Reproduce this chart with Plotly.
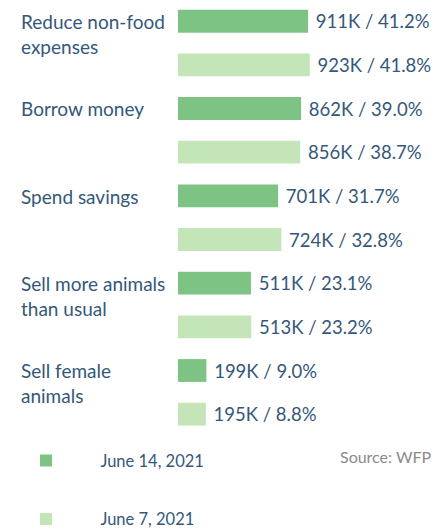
import plotly.graph_objects as go

categories = [
    "Reduce non-food<br>expenses",
    "Borrow money",
    "Spend savings",
    "Sell more animals<br>than usual",
    "Sell female<br>animals",
]
june14_k = [911, 862, 701, 511, 199]
june14_pct = [41.2, 39.0, 31.7, 23.1, 9.0]
june7_k = [923, 856, 724, 513, 195]
june7_pct = [41.8, 38.7, 32.8, 23.2, 8.8]

TEXT = "#34587a"
FONT = "Lato"
NBSP = "\u00a0"

W, H = 435, 530
L = 178
PLOT_W = W - L
Y_TOP, Y_BOTTOM = -0.493, 4.5
PLOT_H = (Y_BOTTOM - Y_TOP) * 87.25


def _labels(values, pcts):
    return [f" {v}K / {p:.1f}%" for v, p in zip(values, pcts)]


def _px_x(px):
    return (px - L) / PLOT_W


def _px_y(px):
    return 1 - px / PLOT_H


fig = go.Figure()
for name, vals, pcts, color, group in (
    ("June 14, 2021", june14_k, june14_pct, "#7dc383", "a"),
    ("June 7, 2021", june7_k, june7_pct, "#c4e5b7", "b"),
):
    fig.add_trace(
        go.Bar(
            y=categories,
            x=vals,
            orientation="h",
            name=NBSP * 4 + name,
            marker=dict(color=color, line=dict(width=0)),
            text=_labels(vals, pcts),
            textposition="outside",
            constraintext="none",
            cliponaxis=False,
            textfont=dict(family=FONT, size=18.5, color=TEXT),
            legendgroup=group,
        )
    )

for cat in categories:
    fig.add_annotation(
        x=_px_x(19),
        xref="paper",
        xanchor="left",
        y=cat,
        yref="y",
        yanchor="top",
        yshift=35,
        text=cat,
        showarrow=False,
        align="left",
        font=dict(family=FONT, size=19, color=TEXT),
    )

fig.add_annotation(
    x=_px_x(434),
    xref="paper",
    xanchor="right",
    y=_px_y(456),
    yref="paper",
    yanchor="middle",
    text="Source: WFP",
    showarrow=False,
    font=dict(family=FONT, size=16, color="#8a8a8a"),
)

fig.update_layout(
    width=W,
    height=H,
    margin=dict(l=L, r=0, t=0, b=H - PLOT_H, autoexpand=False),
    plot_bgcolor="white",
    paper_bgcolor="white",
    barmode="group",
    bargap=0,
    bargroupgap=0.477,
    showlegend=True,
    legend=dict(
        x=_px_x(8),
        xanchor="left",
        y=_px_y(443),
        yanchor="top",
        orientation="v",
        itemwidth=66,
        tracegroupgap=34,
        font=dict(family=FONT, size=16.5, color=TEXT),
        bgcolor="rgba(0,0,0,0)",
    ),
    xaxis=dict(range=[0, 1800], visible=False),
    yaxis=dict(range=[Y_BOTTOM, Y_TOP], showticklabels=False, showgrid=False, zeroline=False),
)

fig.write_html(
    "out.html",
    config={"displayModeBar": False},
    post_script="document.body.style.margin='0';document.body.style.overflow='hidden';",
)
